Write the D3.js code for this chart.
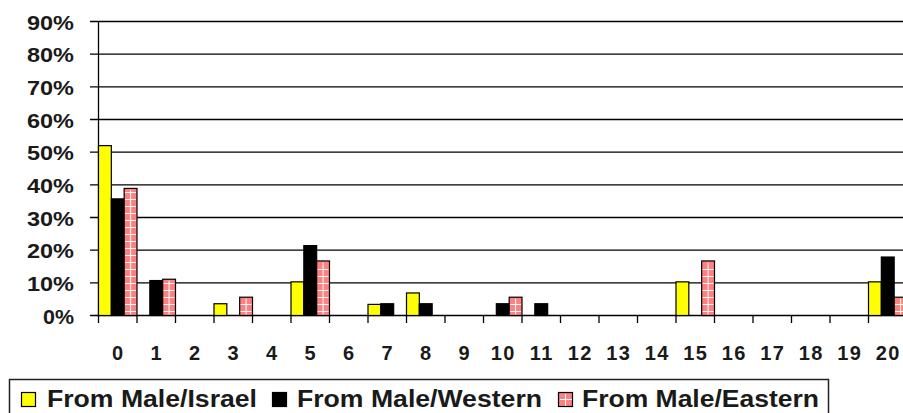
<!DOCTYPE html>
<html>
<head>
<meta charset="utf-8">
<script src="https://cdn.jsdelivr.net/npm/d3@7"></script>
<style>
  html, body { margin: 0; padding: 0; background: #fff; overflow: hidden; }
  text { font-family: "Liberation Sans", Arial, sans-serif; font-weight: bold; fill: #1a1a1a; }
</style>
</head>
<body>
<svg id="chart" width="903" height="413"></svg>
<script>
const categories = ["0","1","2","3","4","5","6","7","8","9","10","11","12","13","14","15","16","17","18","19","20"];
const seriesNames = ["From Male/Israel", "From Male/Western", "From Male/Eastern"];
const israel  = [52, 0, 0, 3.6, 0, 10.3, 0, 3.4, 6.9, 0, 0, 0, 0, 0, 0, 10.3, 0, 0, 0, 0, 10.3];
const western = [35.7, 10.7, 0, 0, 0, 21.4, 0, 3.6, 3.6, 0, 3.6, 3.6, 0, 0, 0, 0, 0, 0, 0, 0, 17.9];
const eastern = [38.9, 11.1, 0, 5.6, 0, 16.7, 0, 0, 0, 0, 5.6, 0, 0, 0, 0, 16.7, 0, 0, 0, 0, 5.6];
const yTicks = [0, 10, 20, 30, 40, 50, 60, 70, 80, 90];

const seriesValues = [israel, western, eastern];
const fills = ["#ffff00", "#000000", "#ff8080"];

const svg = d3.select("#chart");
const plotLeft = 98, plotTop = 21, plotBottom = 315, catW = 38.5;
const x = d3.scaleBand().domain(categories).range([plotLeft, plotLeft + catW * categories.length]).padding(0);
const xs = d3.scaleBand().domain(d3.range(3)).range([0, x.bandwidth()]).padding(0);
const y = d3.scaleLinear().domain([0, 90]).range([plotBottom, plotTop]);

// gridlines
svg.append("g").selectAll("line").data(yTicks).join("line")
  .attr("x1", plotLeft - 8).attr("x2", 903)
  .attr("y1", d => y(d) + 0.5).attr("y2", d => y(d) + 0.5)
  .attr("stroke", "#000").attr("stroke-width", 1.3);

// y axis line
svg.append("line").attr("x1", plotLeft + 0.5).attr("x2", plotLeft + 0.5)
  .attr("y1", y(90)).attr("y2", plotBottom + 8).attr("stroke", "#000").attr("stroke-width", 1.3);

// x ticks at category boundaries
svg.append("g").selectAll("line").data(categories).join("line")
  .attr("x1", d => x(d) + x.bandwidth() + 0.5).attr("x2", d => x(d) + x.bandwidth() + 0.5)
  .attr("y1", plotBottom).attr("y2", plotBottom + 8)
  .attr("stroke", "#000").attr("stroke-width", 1.3);

// y labels
svg.append("g").selectAll("text").data(yTicks).join("text")
  .attr("x", 74).attr("y", d => y(d) + 8.5)
  .attr("text-anchor", "end")
  .attr("font-size", 20)
  .attr("textLength", d => d === 0 ? 31 : 47)
  .attr("lengthAdjust", "spacingAndGlyphs")
  .text(d => d + "%");

// x labels
svg.append("g").selectAll("text").data(categories).join("text")
  .attr("x", d => x(d) + x.bandwidth() / 2 + 1).attr("y", 360)
  .attr("text-anchor", "middle")
  .attr("font-size", 20)
  .attr("letter-spacing", "1.5px")
  .text(d => d);

// bars
const barData = [];
seriesValues.forEach((vals, s) => vals.forEach((v, i) => { if (v > 0) barData.push({s, cat: categories[i], v}); }));

const bars = svg.append("g");
barData.forEach(d => {
  const bx = x(d.cat) + xs(d.s), bw = xs.bandwidth();
  const by = y(d.v), bh = plotBottom - by;
  bars.append("rect").attr("x", bx + 0.5).attr("y", by + 0.5).attr("width", bw).attr("height", bh)
    .attr("fill", fills[d.s]).attr("stroke", "#000").attr("stroke-width", 1.2);
  if (d.s === 2) {
    const g = bars.append("g").attr("stroke", "#fff").attr("stroke-width", 1);
    g.append("line").attr("x1", bx + bw / 2 + 0.5).attr("x2", bx + bw / 2 + 0.5).attr("y1", by + 2).attr("y2", plotBottom - 0.5);
    d3.range(plotBottom - 4, by + 2, -7).forEach(ly => {
      g.append("line").attr("x1", bx + 1.5).attr("x2", bx + bw - 0.5).attr("y1", ly + 0.5).attr("y2", ly + 0.5);
    });
  }
});

// legend
const legend = svg.append("g");
legend.append("rect").attr("x", 9.5).attr("y", 379.5).attr("width", 819).attr("height", 40)
  .attr("fill", "#fff").attr("stroke", "#222").attr("stroke-width", 1.5);
const legendItems = [
  {name: seriesNames[0], sx: 21, tx: 47, tw: 210},
  {name: seriesNames[1], sx: 272, tx: 297, tw: 245},
  {name: seriesNames[2], sx: 558, tx: 582, tw: 237}
];
legendItems.forEach((it, i) => {
  legend.append("rect").attr("x", it.sx + 0.5).attr("y", 392.5).attr("width", 14).attr("height", 14)
    .attr("fill", fills[i]).attr("stroke", "#000").attr("stroke-width", 1.2);
  if (i === 2) {
    legend.append("line").attr("x1", it.sx + 7.5).attr("x2", it.sx + 7.5).attr("y1", 394).attr("y2", 406).attr("stroke", "#fff");
    legend.append("line").attr("x1", it.sx + 2).attr("x2", it.sx + 14).attr("y1", 399.5).attr("y2", 399.5).attr("stroke", "#fff");
  }
  legend.append("text").attr("x", it.tx).attr("y", 407)
    .attr("font-size", 23)
    .attr("textLength", it.tw).attr("lengthAdjust", "spacingAndGlyphs")
    .text(it.name);
});
</script>
</body>
</html>
